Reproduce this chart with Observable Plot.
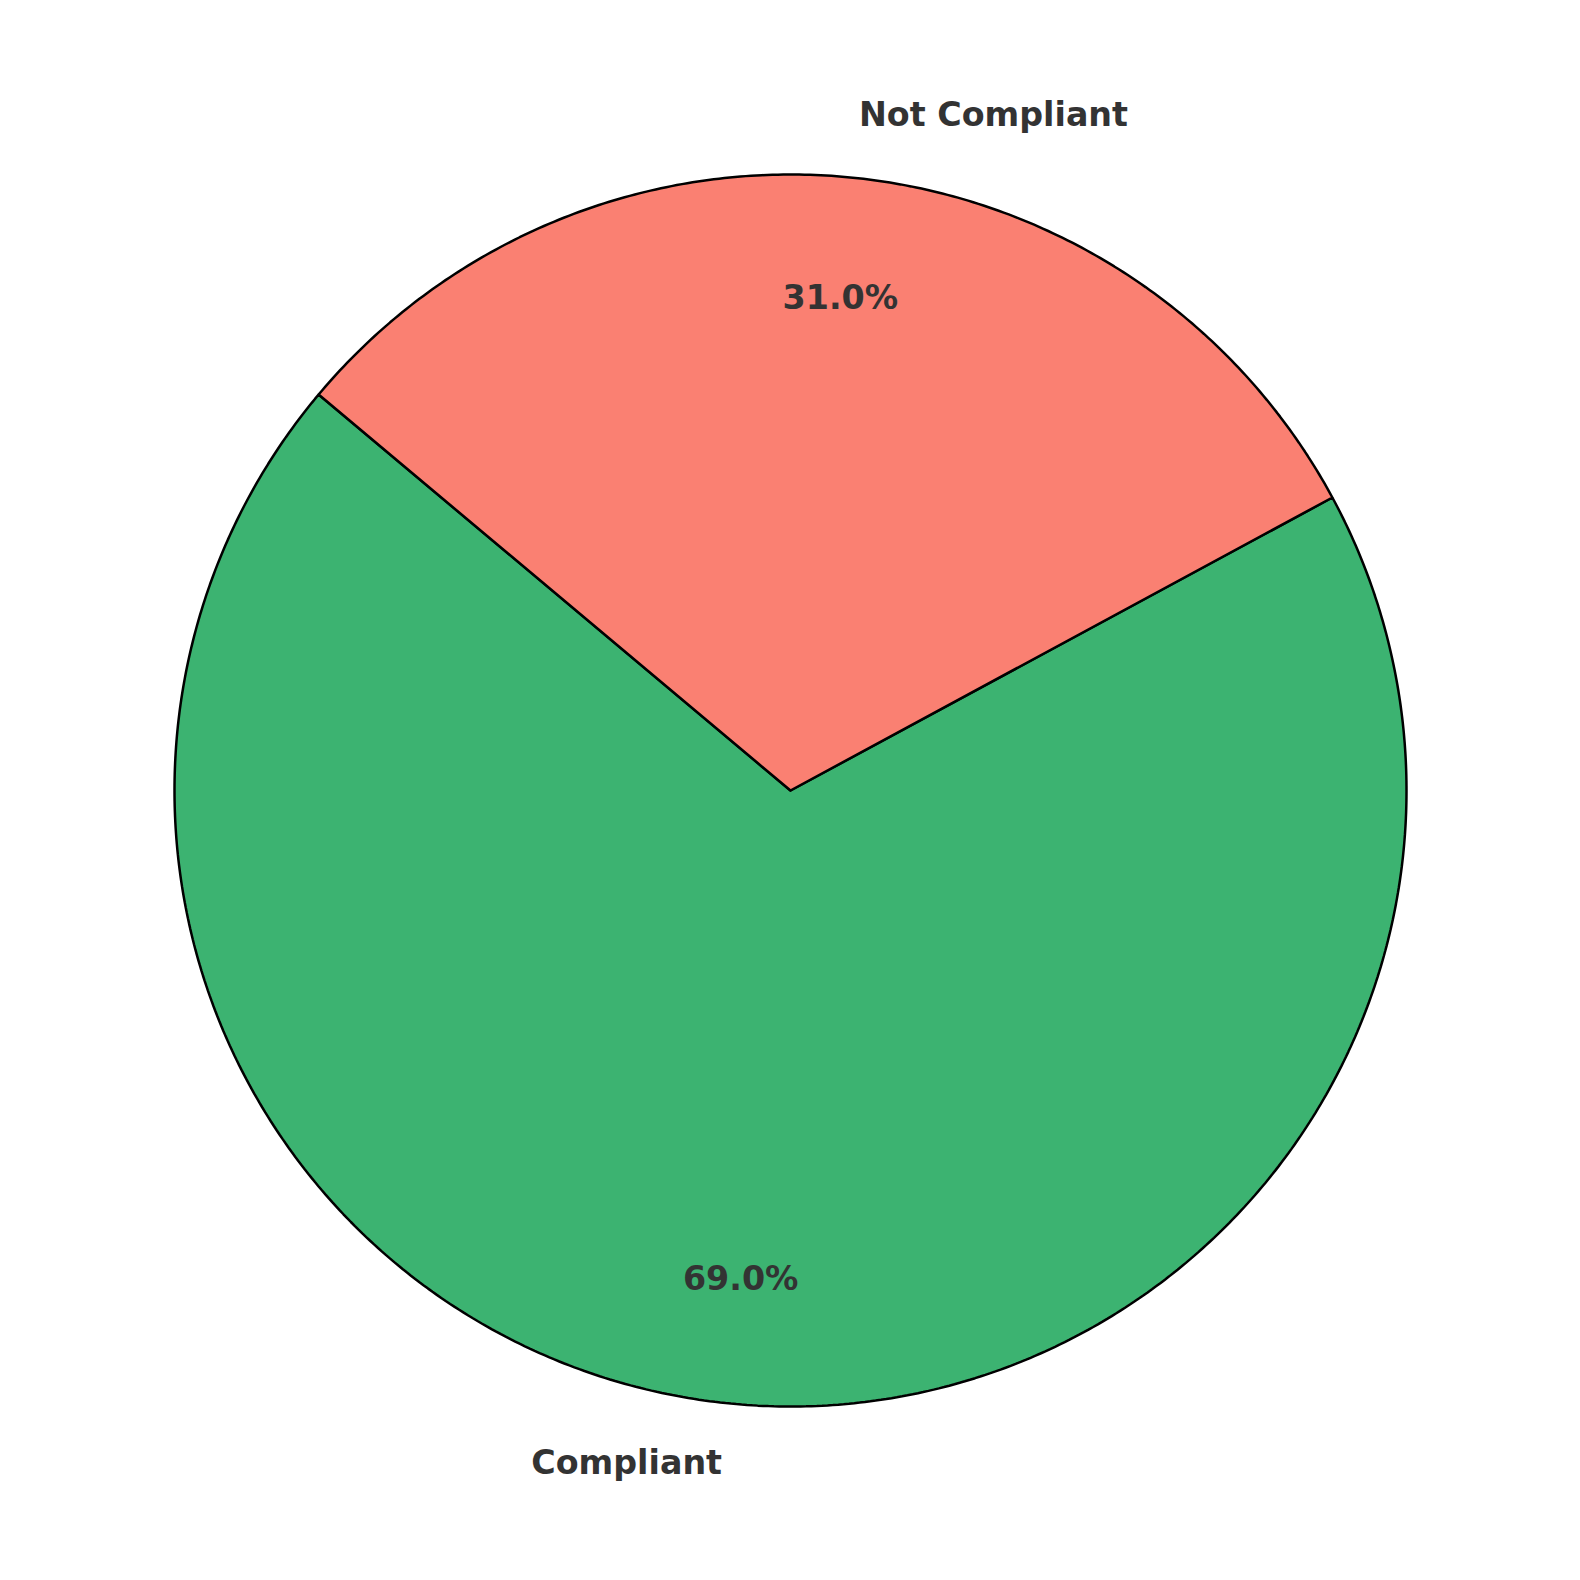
<!DOCTYPE html>
<html>
<head>
<meta charset="utf-8">
<script src="https://cdn.jsdelivr.net/npm/d3@7"></script>
<script src="https://cdn.jsdelivr.net/npm/@observablehq/plot@0.6"></script>
<style>
  html, body { margin: 0; padding: 0; background: #fff; }
  #chart { width: 1580px; height: 1580px; }
</style>
</head>
<body>
<div id="chart"></div>
<script>
const categories = ["Compliant", "Not Compliant"];
const values = [69, 31];
const colors = ["#3CB371", "#FA8072"];

const startAngle = 140; // degrees, counter-clockwise from +x
const labelDistance = 1.1;
const pctDistance = 0.8;

const total = d3.sum(values);
const slices = [];
const labels = [];
let a0 = startAngle;
categories.forEach((c, i) => {
  const sweep = values[i] / total * 360;
  const a1 = a0 + sweep;
  const n = Math.max(2, Math.ceil(sweep * 2));
  slices.push({cat: c, i, x: 0, y: 0});
  for (let k = 0; k <= n; k++) {
    const t = (a0 + (a1 - a0) * k / n) * Math.PI / 180;
    slices.push({cat: c, i, x: Math.cos(t), y: Math.sin(t)});
  }
  slices.push({cat: c, i, x: 0, y: 0});
  const mid = (a0 + a1) / 2 * Math.PI / 180;
  const lx = Math.cos(mid) * labelDistance, ly = Math.sin(mid) * labelDistance;
  labels.push({
    text: c, x: lx, y: ly,
    anchor: lx >= 0 ? "start" : "end"
  });
  labels.push({
    text: (values[i] / total * 100).toFixed(1) + "%",
    x: Math.cos(mid) * pctDistance, y: Math.sin(mid) * pctDistance,
    anchor: "middle"
  });
  a0 = a1;
});

const W = 1580, H = 1580, cx = 790, cy = 790, R = 616;
const textStyle = {
  x: "x", y: "y", text: "text", dy: -1.5,
  fontFamily: "DejaVu Sans", fontWeight: "bold", fontSize: 33.3, fill: "#333333"
};
const chart = Plot.plot({
  width: W, height: H,
  margin: 0,
  x: {domain: [-cx / R, (W - cx) / R], axis: null},
  y: {domain: [-(H - cy) / R, cy / R], axis: null},
  color: {domain: categories, range: colors},
  style: {background: "white"},
  marks: [
    Plot.line(slices, {
      x: "x", y: "y", z: "cat",
      fill: "cat", stroke: "black", strokeWidth: 2.5,
      strokeLinejoin: "miter", curve: "linear"
    }),
    Plot.text(labels.filter(d => d.anchor === "start"), {...textStyle, textAnchor: "start"}),
    Plot.text(labels.filter(d => d.anchor === "end"), {...textStyle, textAnchor: "end"}),
    Plot.text(labels.filter(d => d.anchor === "middle"), {...textStyle, textAnchor: "middle"})
  ]
});
document.getElementById("chart").appendChild(chart);
</script>
</body>
</html>
